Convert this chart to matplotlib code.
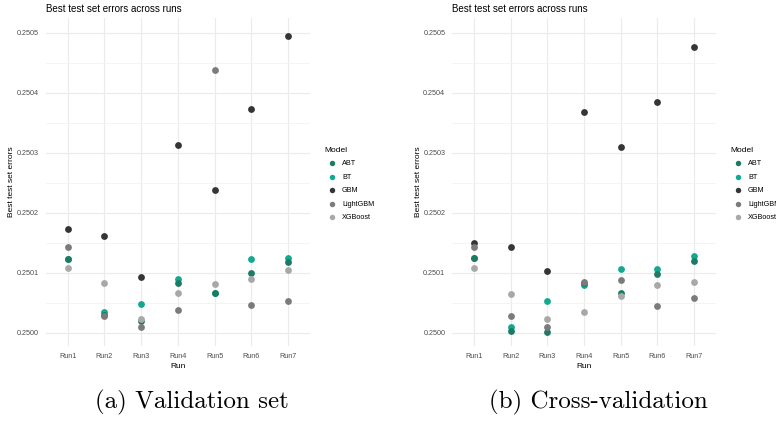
"""Лучшие ошибки на тестовой выборке по прогонам: validation и cross-validation."""

import matplotlib.pyplot as plt
from matplotlib.ticker import FormatStrFormatter, MultipleLocator

runs = ['Run1', 'Run2', 'Run3', 'Run4', 'Run5', 'Run6', 'Run7']
models = ['ABT', 'BT', 'GBM', 'LightGBM', 'XGBoost']

# Validation set
val_abt = [0.250123, 0.250030, 0.250019, 0.250082, 0.250066, 0.250099, 0.250118]
val_bt = [0.250123, 0.250034, 0.250048, 0.250089, 0.250066, 0.250122, 0.250124]
val_gbm = [0.250173, 0.250161, 0.250093, 0.250312, 0.250237, 0.250372, 0.250494]
val_lgbm = [0.250143, 0.250027, 0.250009, 0.250038, 0.250437, 0.250046, 0.250053]
val_xgb = [0.250108, 0.250083, 0.250023, 0.250066, 0.250081, 0.250090, 0.250104]

# Cross-validation
cv_abt = [0.250125, 0.250003, 0.250001, 0.250082, 0.250066, 0.250097, 0.250119]
cv_bt = [0.250125, 0.250010, 0.250052, 0.250080, 0.250106, 0.250106, 0.250128]
cv_gbm = [0.250150, 0.250143, 0.250103, 0.250368, 0.250309, 0.250385, 0.250476]
cv_lgbm = [0.250143, 0.250027, 0.250009, 0.250085, 0.250087, 0.250045, 0.250057]
cv_xgb = [0.250108, 0.250064, 0.250023, 0.250035, 0.250061, 0.250080, 0.250084]

colors = {
    'ABT': '#1d7a64',
    'BT': '#14a88f',
    'GBM': '#353535',
    'LightGBM': '#7b7b7b',
    'XGBoost': '#a8a8a8',
}
# порядок отрисовки (кто кого перекрывает)
draw_order = ['BT', 'ABT', 'GBM', 'LightGBM', 'XGBoost']

SANS = ['Liberation Sans', 'DejaVu Sans']
W, H = 776, 423


def px_rect(x0, y0, x1, y1):
    """Прямоугольник в пикселях (сверху вниз) -> координаты фигуры."""
    return [x0 / W, 1 - y1 / H, (x1 - x0) / W, (y1 - y0) / H]


def draw_panel(fig, rect, series, legend_xy):
    ax = fig.add_axes(rect)
    xs = list(range(1, len(runs) + 1))

    handles = {}
    for name in draw_order:
        handles[name] = ax.scatter(xs, series[name], s=24, color=colors[name],
                                   linewidths=0, zorder=3, label=name)

    ax.set_xlim(0.4, 7.6)
    ax.set_ylim(0.249978, 0.250524)
    ax.set_xticks(xs)
    ax.set_xticklabels(runs)
    ax.yaxis.set_major_locator(MultipleLocator(0.0001))
    ax.yaxis.set_minor_locator(MultipleLocator(0.00005))
    ax.yaxis.set_major_formatter(FormatStrFormatter('%.4f'))

    # минималистичная тема: только сетка
    for sp in ax.spines.values():
        sp.set_visible(False)
    ax.grid(True, which='major', color='#ebebeb', linewidth=0.8, zorder=0)
    ax.grid(True, which='minor', axis='y', color='#f2f2f2', linewidth=0.6, zorder=0)
    ax.set_axisbelow(True)
    ax.tick_params(which='both', length=0, colors='#4d4d4d', labelsize=5.2, pad=5)
    for lbl in ax.get_xticklabels() + ax.get_yticklabels():
        lbl.set_family(SANS)

    ax.set_xlabel('Run', fontsize=6, family=SANS, labelpad=2.5)
    ax.set_ylabel('Best test set errors', fontsize=6, family=SANS, labelpad=1)
    ax.set_title('Best test set errors across runs', fontsize=7, family=SANS,
                 loc='left', pad=4.5)

    leg = ax.legend([handles[m] for m in models], models, title='Model',
                    loc='upper left', bbox_to_anchor=(legend_xy[0] / W, 1 - legend_xy[1] / H),
                    bbox_transform=fig.transFigure, frameon=False, borderpad=0,
                    title_fontsize=6, markerscale=0.8,
                    handlelength=2.0, handletextpad=0.4, labelspacing=0.9,
                    alignment='left', prop={'family': SANS, 'size': 5.2})
    leg.get_title().set_family(SANS)
    return ax


fig = plt.figure(figsize=(W / 100, H / 100), dpi=100)

draw_panel(fig, px_rect(45.7, 18.3, 310.0, 345.7),
           {'ABT': val_abt, 'BT': val_bt, 'GBM': val_gbm, 'LightGBM': val_lgbm, 'XGBoost': val_xgb},
           (321, 143))
draw_panel(fig, px_rect(452.3, 18.3, 715.7, 345.7),
           {'ABT': cv_abt, 'BT': cv_bt, 'GBM': cv_gbm, 'LightGBM': cv_lgbm, 'XGBoost': cv_xgb},
           (727, 143))

# подписи подрисунков
fig.text(192 / W, 1 - 402 / H, '(a) Validation set', family='cmr10', fontsize=18,
         ha='center', va='center')
fig.text(598 / W, 1 - 402 / H, '(b) Cross-validation', family='cmr10', fontsize=18,
         ha='center', va='center')

fig.savefig('out.png', dpi=100, facecolor='white')
